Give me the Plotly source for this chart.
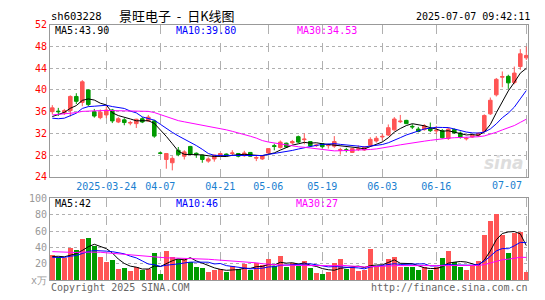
import plotly.graph_objects as go
import pandas as pd

dates = [
    "2025-03-11", "2025-03-12", "2025-03-13", "2025-03-14", "2025-03-17", "2025-03-18", "2025-03-19", "2025-03-20",
    "2025-03-21", "2025-03-24", "2025-03-25", "2025-03-26", "2025-03-27", "2025-03-28", "2025-03-31", "2025-04-01",
    "2025-04-02", "2025-04-03", "2025-04-07", "2025-04-08", "2025-04-09", "2025-04-10", "2025-04-11", "2025-04-14",
    "2025-04-15", "2025-04-16", "2025-04-17", "2025-04-18", "2025-04-21", "2025-04-22", "2025-04-23", "2025-04-24",
    "2025-04-25", "2025-04-28", "2025-04-29", "2025-04-30", "2025-05-06", "2025-05-07", "2025-05-08", "2025-05-09",
    "2025-05-12", "2025-05-13", "2025-05-14", "2025-05-15", "2025-05-16", "2025-05-19", "2025-05-20", "2025-05-21",
    "2025-05-22", "2025-05-23", "2025-05-26", "2025-05-27", "2025-05-28", "2025-05-29", "2025-05-30", "2025-06-03",
    "2025-06-04", "2025-06-05", "2025-06-06", "2025-06-09", "2025-06-10", "2025-06-11", "2025-06-12", "2025-06-13",
    "2025-06-16", "2025-06-17", "2025-06-18", "2025-06-19", "2025-06-20", "2025-06-23", "2025-06-24", "2025-06-25",
    "2025-06-26", "2025-06-27", "2025-06-30", "2025-07-01", "2025-07-02", "2025-07-03", "2025-07-04", "2025-07-07",
]

opens = [
    36.0, 36.1, 35.8, 36.2, 38.8, 37.7, 40.0, 36.0, 34.9, 35.4,
    36.3, 34.1, 34.5, 33.9, 33.8, 34.7, 34.3, 34.3, 28.4, 27.2,
    26.6, 28.9, 27.8, 29.6, 28.35, 28.0, 26.9, 27.3, 27.8, 28.2,
    28.3, 28.3, 27.9, 28.5, 27.45, 27.3, 28.4, 29.75, 29.4, 30.2,
    30.25, 31.4, 30.85, 30.5, 29.75, 30.1, 29.75, 29.65, 28.9, 29.0,
    28.5, 29.05, 28.95, 29.8, 30.6, 31.35, 31.7, 32.65, 34.15, 34.4,
    33.3, 32.8, 32.7, 32.9, 32.45, 32.5, 31.05, 32.7, 32.05, 31.0,
    31.35, 31.65, 32.35, 35.6, 39.1, 42.35, 42.5, 41.35, 44.3, 45.9,
]
highs = [
    37.2, 36.7, 36.5, 39.0, 39.4, 41.8, 40.1, 36.5, 36.4, 37.0,
    36.5, 35.0, 34.8, 34.3, 34.7, 35.0, 35.4, 34.5, 28.6, 28.4,
    27.8, 29.5, 28.9, 29.7, 28.5, 28.1, 27.6, 28.1, 28.4, 28.3,
    28.9, 28.4, 28.8, 28.5, 27.9, 28.0, 29.3, 30.1, 30.7, 30.3,
    30.8, 31.6, 32.0, 30.6, 30.1, 30.2, 30.1, 31.5, 29.35, 29.35,
    29.3, 29.8, 29.6, 31.3, 31.5, 31.9, 33.65, 35.0, 35.4, 34.5,
    33.7, 33.2, 33.7, 34.0, 33.4, 32.8, 33.1, 32.9, 32.35, 31.35,
    31.8, 32.2, 35.5, 38.6, 42.2, 43.4, 42.8, 44.3, 47.5, 48.0,
]
lows = [
    35.5, 35.2, 35.4, 35.1, 37.4, 37.0, 37.0, 34.9, 34.6, 34.8,
    33.9, 33.9, 33.5, 33.5, 33.0, 33.9, 34.1, 31.2, 28.35, 25.5,
    25.2, 27.8, 27.2, 28.1, 27.5, 26.6, 26.6, 26.8, 27.7, 27.8,
    27.9, 27.6, 27.7, 27.7, 26.9, 27.1, 28.3, 28.9, 29.2, 29.4,
    30.0, 30.2, 30.0, 29.6, 29.5, 29.2, 29.2, 29.35, 28.1, 28.5,
    28.4, 28.75, 28.8, 29.5, 30.3, 30.7, 31.5, 32.5, 33.9, 33.7,
    32.8, 32.2, 32.5, 32.25, 31.9, 31.05, 30.8, 31.9, 31.05, 30.7,
    31.2, 31.35, 32.2, 35.4, 38.8, 40.5, 40.2, 41.05, 43.7, 45.5,
]
closes = [
    36.7, 36.0, 36.2, 38.8, 37.9, 41.5, 37.3, 35.2, 35.9, 36.3,
    34.3, 34.7, 34.0, 34.0, 34.6, 34.1, 35.0, 31.5, 28.35, 28.3,
    27.4, 28.1, 28.6, 28.2, 28.1, 27.2, 27.3, 28.0, 28.3, 27.9,
    28.4, 27.8, 28.4, 27.8, 27.55, 27.9, 29.2, 29.6, 30.4, 29.5,
    30.5, 30.4, 30.95, 29.7, 29.85, 29.55, 29.85, 30.5, 29.0, 28.9,
    29.2, 29.15, 29.5, 30.9, 31.1, 31.45, 33.05, 34.65, 34.25, 33.8,
    33.2, 32.35, 33.4, 32.5, 32.55, 31.2, 32.8, 32.1, 31.35, 31.1,
    31.65, 32.0, 35.3, 38.1, 41.95, 42.45, 41.3, 43.1, 46.65, 46.35,
]
volumes = [
    30.7, 28.5, 26.8, 39.6, 37.1, 50.3, 51.1, 41.8, 28.1, 22.1,
    24.2, 13.7, 15.0, 11.6, 16.0, 12.7, 13.9, 33.6, 7.9, 35.9,
    28.1, 26.2, 25.7, 22.3, 16.2, 14.8, 10.4, 12.5, 13.3, 10.4,
    16.8, 12.9, 20.0, 12.7, 21.0, 18.0, 25.4, 16.6, 29.0, 15.9,
    20.5, 17.5, 23.5, 14.5, 9.0, 7.5, 10.2, 20.5, 26.0, 13.5,
    15.5, 11.5, 11.8, 37.5, 17.0, 17.0, 25.5, 28.0, 16.5, 16.0,
    16.0, 12.8, 15.5, 11.8, 16.0, 26.5, 35.0, 21.5, 16.0, 12.8,
    17.0, 23.0, 54.5, 72.0, 81.0, 55.0, 32.5, 57.0, 58.0, 9.4,
]
# closes / volumes of the 29 sessions before the first visible one (estimated from the MA lines)
prior_closes = [
    33.8, 34.0, 34.3, 34.1, 34.5, 34.8, 34.6, 35.0, 35.3, 34.9,
    35.2, 35.0, 34.7, 35.1, 34.9, 35.8, 38.0, 40.5, 40.2, 39.2,
    37.0, 35.2, 34.0, 33.5, 32.8, 33.9, 34.5, 35.0, 35.4,
]
prior_volumes = [
    42, 38, 45, 40, 36, 44, 39, 41, 43, 42,
    38, 35, 40, 33, 37, 34, 36, 39, 35, 33,
    30, 26, 25, 28, 26, 27, 30, 28, 29.5,
]

price_ticks = [24, 28, 32, 36, 40, 44, 48, 52]
vol_ticks = [0, 20, 40, 60, 80, 100]
vol_tick_text = ["x万", "20", "40", "60", "80", "100"]
date_ticks = ["2025-03-24", "2025-04-07", "2025-04-21", "2025-05-06", "2025-05-19", "2025-06-03", "2025-06-16", "2025-07-07"]
date_tick_text = ["2025-03-24", "04-07", "04-21", "05-06", "05-19", "06-03", "06-16", "07-07"]
price_ma_labels = ["MA5:43.90", "MA10:39.80", "MA30:34.53"]
vol_ma_labels = ["MA5:42", "MA10:46", "MA30:27"]
ma_periods = [5, 10, 30]
ma_colors = ["#000000", "#0000ff", "#ff00ff"]

RED = "#ff5555"
GREEN = "#009a00"
W, H = 545, 300
MONO = "DejaVu Sans Mono"

n = len(dates)
all_close = pd.Series(prior_closes + closes)
all_vol = pd.Series(prior_volumes + volumes)

fig = go.Figure()

fig.add_trace(go.Candlestick(
    x=dates, open=opens, high=highs, low=lows, close=closes,
    increasing=dict(line=dict(color=RED, width=1), fillcolor=RED),
    decreasing=dict(line=dict(color=GREEN, width=1), fillcolor=GREEN),
    whiskerwidth=0, xaxis="x", yaxis="y", showlegend=False, hoverinfo="skip",
))
for p, c in zip(ma_periods, ma_colors):
    ma = all_close.rolling(p).mean().iloc[-n:].tolist()
    fig.add_trace(go.Scatter(x=dates, y=ma, mode="lines", line=dict(color=c, width=1),
                             xaxis="x", yaxis="y", showlegend=False, hoverinfo="skip"))

bar_colors = [RED if c >= o else GREEN for o, c in zip(opens, closes)]
fig.add_trace(go.Bar(x=dates, y=volumes, marker=dict(color=bar_colors, line=dict(width=0)),
                     width=0.82, xaxis="x2", yaxis="y2", showlegend=False, hoverinfo="skip"))
for p, c in zip(ma_periods, ma_colors):
    ma = all_vol.rolling(p).mean().iloc[-n:].tolist()
    fig.add_trace(go.Scatter(x=dates, y=ma, mode="lines", line=dict(color=c, width=1),
                             xaxis="x2", yaxis="y2", showlegend=False, hoverinfo="skip"))

xdom = [50 / W, 528 / W]
xrange = [-0.383, n - 1 + 0.283]
grid = "#b0b0b0"
border = "#999999"

common_x = dict(type="category", domain=xdom, range=xrange, tickvals=date_ticks,
                showgrid=True, gridcolor=grid, griddash="dash", gridwidth=1,
                showline=True, mirror=True, linecolor=border, linewidth=1,
                ticks="", fixedrange=True, rangeslider=dict(visible=False))

fig.update_layout(
    width=W, height=H, margin=dict(l=0, r=0, t=0, b=0),
    paper_bgcolor="white", plot_bgcolor="white",
    boxgap=0.15,
    bargap=0,
    xaxis=dict(common_x, anchor="y",
               ticktext=date_tick_text[:-1] + [""],
               tickfont=dict(family=MONO, size=10, color="#1a80d0")),
    yaxis=dict(domain=[1 - 178 / H, 1 - 19.5 / H], range=[24, 52], tickvals=price_ticks,
               showgrid=True, gridcolor=grid, griddash="dot", gridwidth=1,
               showline=True, mirror=True, linecolor=border, linewidth=1,
               zeroline=False, ticks="", tickfont=dict(family=MONO, size=10, color="#ff0000"),
               fixedrange=True),
    xaxis2=dict(common_x, anchor="y2", showticklabels=False, ticktext=date_tick_text),
    yaxis2=dict(domain=[1 - 285.8 / H, 1 - 200.3 / H], range=[0, 100], tickvals=vol_ticks,
                ticktext=vol_tick_text,
                showgrid=True, gridcolor=grid, griddash="dot", gridwidth=1,
                showline=True, mirror=True, linecolor=border, linewidth=1,
                zeroline=False, ticks="", tickfont=dict(family=MONO, size=10, color="#999999"),
                fixedrange=True),
)

def px_x(x):
    return x / W

def px_y(y):
    return 1 - y / H

ann = []
# header
ann.append(dict(text="sh603228", x=px_x(49), y=px_y(10.5), xanchor="left", yanchor="middle",
                font=dict(family=MONO, size=10.5, color="#000")))
ann.append(dict(text="景旺电子&nbsp;&nbsp;-&nbsp;&nbsp;日K线图", x=px_x(117), y=px_y(10), xanchor="left", yanchor="middle",
                font=dict(family="Noto Sans CJK SC", size=13, color="#000")))
ann.append(dict(text="2025-07-07 09:42:11", x=px_x(532), y=px_y(11), xanchor="right", yanchor="middle",
                font=dict(family=MONO, size=10, color="#000")))
# MA legends
for lab, c, xl in zip(price_ma_labels, ma_colors, [53, 174, 295]):
    ann.append(dict(text=lab, x=px_x(xl), y=px_y(25), xanchor="left", yanchor="middle",
                    font=dict(family=MONO, size=10, color=c)))
for lab, c, xl in zip(vol_ma_labels, ma_colors, [53, 174, 294]):
    ann.append(dict(text=lab, x=px_x(xl), y=px_y(206), xanchor="left", yanchor="middle",
                    font=dict(family=MONO, size=10, color=c)))
# last date label, kept inside the panel
ann.append(dict(text=date_tick_text[-1], x=date_ticks[-1], xref="x", y=px_y(186.5), yref="paper",
                xanchor="right", yanchor="middle", xshift=-2,
                font=dict(family=MONO, size=10, color="#1a80d0")))
# footer
ann.append(dict(text="Copyright 2025 SINA.COM", x=px_x(49), y=px_y(293), xanchor="left", yanchor="middle",
                font=dict(family=MONO, size=10, color="#666666")))
ann.append(dict(text="http://finance.sina.com.cn", x=px_x(530), y=px_y(293.5), xanchor="right", yanchor="middle",
                font=dict(family=MONO, size=10, color="#666666")))
# watermark
ann.append(dict(text="<b><i>sina</i></b>", x=px_x(526), y=px_y(164), xanchor="right", yanchor="middle",
                font=dict(family="DejaVu Sans", size=17, color="#dddddd")))

for a in ann:
    a.setdefault("xref", "paper")
    a.setdefault("yref", "paper")
    a["showarrow"] = False
fig.update_layout(annotations=ann)

fig.write_html("out.html", config={"displayModeBar": False},
               post_script="document.body.style.margin='0';document.body.style.padding='0';")
